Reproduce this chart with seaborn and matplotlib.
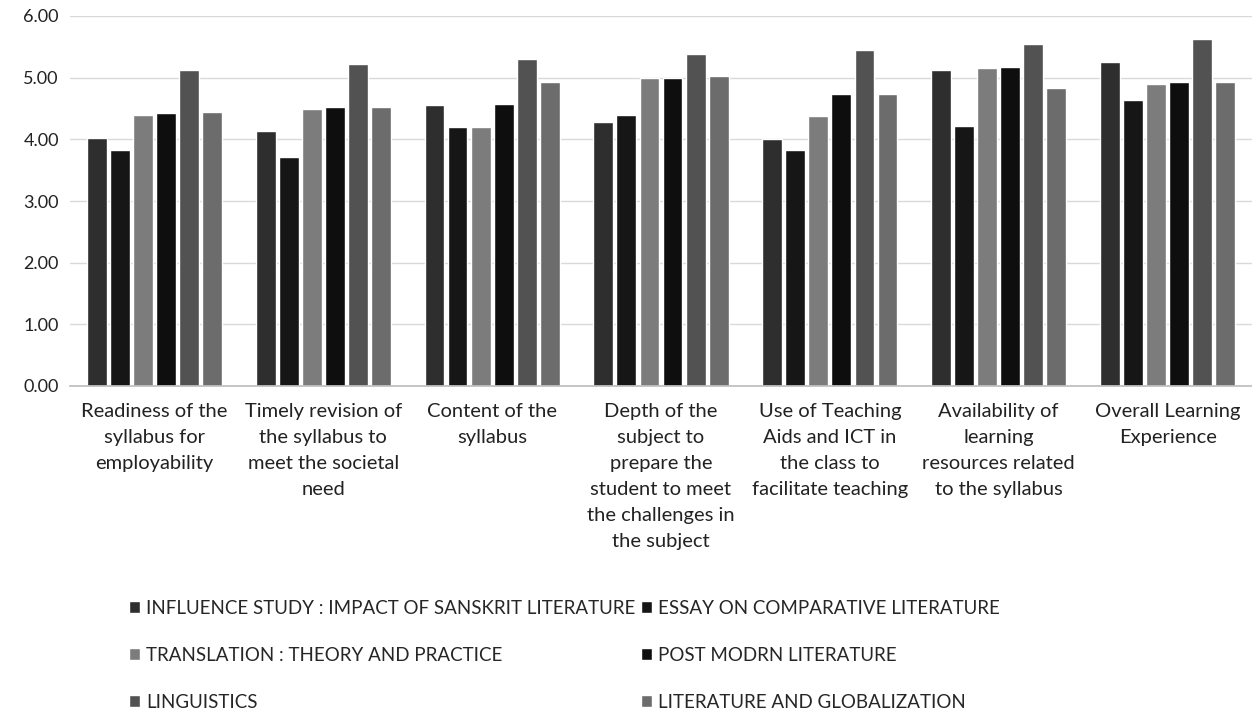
import matplotlib
matplotlib.use("Agg")
import matplotlib.pyplot as plt
import seaborn as sns
import pandas as pd

categories = [
    "Readiness of the\nsyllabus for\nemployability",
    "Timely revision of\nthe syllabus to\nmeet the societal\nneed",
    "Content of the\nsyllabus",
    "Depth of the\nsubject to\nprepare the\nstudent to meet\nthe challenges in\nthe subject",
    "Use of Teaching\nAids and ICT in\nthe class to\nfacilitate teaching",
    "Availability of\nlearning\nresources related\nto the syllabus",
    "Overall Learning\nExperience",
]

series_names = [
    "INFLUENCE STUDY : IMPACT OF SANSKRIT LITERATURE",
    "ESSAY ON COMPARATIVE LITERATURE",
    "TRANSLATION : THEORY AND PRACTICE",
    "POST MODRN LITERATURE",
    "LINGUISTICS",
    "LITERATURE AND GLOBALIZATION",
]

influence = [4.02, 4.13, 4.55, 4.28, 4.00, 5.13, 5.25]
essay = [3.83, 3.72, 4.20, 4.40, 3.83, 4.22, 4.63]
translation = [4.40, 4.50, 4.20, 5.00, 4.38, 5.15, 4.90]
postmodern = [4.42, 4.52, 4.58, 5.00, 4.73, 5.17, 4.93]
linguistics = [5.13, 5.22, 5.30, 5.38, 5.45, 5.55, 5.62]
globalization = [4.45, 4.53, 4.93, 5.03, 4.73, 4.83, 4.93]

colors = ["#2e2e2e", "#161616", "#7c7c7c", "#0e0e0e", "#525252", "#6c6c6c"]

series_values = [influence, essay, translation, postmodern, linguistics, globalization]
rows = []
for name, vals in zip(series_names, series_values):
    for cat, v in zip(categories, vals):
        rows.append({"category": cat, "series": name, "value": v})
df = pd.DataFrame(rows)

sns.set_theme(style="white")
plt.rcParams["font.family"] = ["Lato", "DejaVu Sans"]

fig = plt.figure(figsize=(12.52, 7.17), dpi=100)
ax = fig.add_axes([70 / 1252, 1 - 386 / 717, 1182 / 1252, 370 / 717])

sns.barplot(data=df, x="category", y="value", hue="series", order=categories,
            hue_order=series_names, palette=colors, width=0.82, gap=0.14,
            saturation=1, ax=ax, legend=True)

ax.set_ylim(0, 6)
ax.set_yticks([0, 1, 2, 3, 4, 5, 6])
ax.set_yticklabels([f"{t:.2f}" for t in [0, 1, 2, 3, 4, 5, 6]], fontsize=13, color="#222222")
ax.set_xticks(range(len(categories)))
ax.set_xticklabels(categories, fontsize=14.5, color="#222222", linespacing=1.65)
ax.yaxis.grid(True, color="#d9d9d9", linewidth=1)
ax.set_axisbelow(True)
ax.set_xlabel("")
ax.set_ylabel("")
ax.tick_params(axis="x", length=0, pad=12)
ax.tick_params(axis="y", length=0, pad=8)
for s in ["top", "right", "left"]:
    ax.spines[s].set_visible(False)
ax.spines["bottom"].set_color("#bfbfbf")

handles, labels = ax.get_legend_handles_labels()
ax.get_legend().remove()
order = [0, 2, 4, 1, 3, 5]
fig.legend([handles[i] for i in order], [labels[i] for i in order],
           loc="upper left", bbox_to_anchor=(112 / 1252, 1 - 583 / 717),
           ncol=2, frameon=False, fontsize=13.5, handlelength=0.6, handleheight=0.6,
           handletextpad=0.3, labelspacing=1.6, columnspacing=0.3)

fig.savefig("out.png", dpi=100, facecolor="white")
